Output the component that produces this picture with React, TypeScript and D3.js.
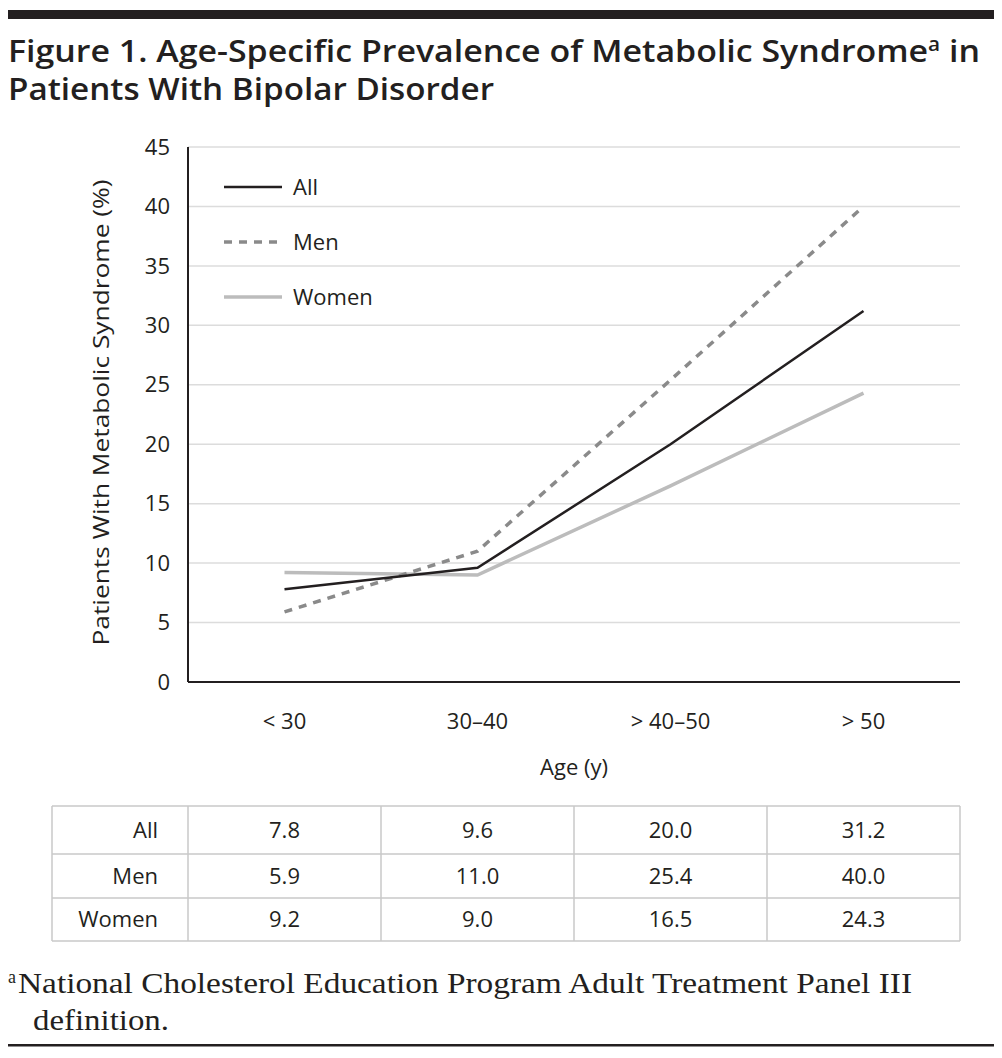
import React from 'react';
import * as d3 from 'd3';

// values (and its table)
const AGE_GROUPS = ['< 30', '30–40', '> 40–50', '> 50'];
const ALL = [7.8, 9.6, 20.0, 31.2];
const MEN = [5.9, 11.0, 25.4, 40.0];
const WOMEN = [9.2, 9.0, 16.5, 24.3];
const Y_TICKS = [0, 5, 10, 15, 20, 25, 30, 35, 40, 45];

const SERIES = [
    { name: 'All', values: ALL, color: '#231f20', width: 2.5, dash: '' },
    { name: 'Men', values: MEN, color: '#8a8a8a', width: 3.5, dash: '8,7' },
    { name: 'Women', values: WOMEN, color: '#bcbcbc', width: 3.5, dash: '' },
];

const W = 1002;
const H = 1058;
const PLOT = { left: 188, right: 960, top: 147, bottom: 682 };
const SANS = '"Open Sans", "Noto Sans", sans-serif';
const SERIF = '"Liberation Serif", "DejaVu Serif", serif';

export default function App() {
    const x = d3.scaleBand<string>().domain(AGE_GROUPS).range([PLOT.left, PLOT.right]);
    const cx = (c: string) => x(c)! + x.bandwidth() / 2;
    const y = d3.scaleLinear().domain([0, 45]).range([PLOT.bottom, PLOT.top]);

    const line = d3.line<number>()
        .x((_, i) => cx(AGE_GROUPS[i]))
        .y(d => y(d));

    // table geometry
    const tableTop = 806;
    const rowH = [48, 44, 43];
    const rowY = [tableTop, tableTop + rowH[0], tableTop + rowH[0] + rowH[1], tableTop + rowH[0] + rowH[1] + rowH[2]];
    const tableLeft = 52;
    const colEdges = [tableLeft, ...AGE_GROUPS.map(c => x(c)!), PLOT.right];

    return (
        <svg width={W} height={H} style={{ position: 'absolute', left: 0, top: 0, background: '#fff' }}>
            {/* top rule */}
            <rect x={8} y={10} width={986} height={9} fill="#231f20" />

            {/* title */}
            <text x={8} y={62} fontFamily={SANS} fontWeight={600} fontSize={31} fill="#231f20"
                textLength={972} lengthAdjust="spacingAndGlyphs">
                Figure 1. Age-Specific Prevalence of Metabolic Syndrome
                <tspan dy={-11} fontSize={19}>a</tspan>
                <tspan dy={11}> in</tspan>
            </text>
            <text x={8} y={100} fontFamily={SANS} fontWeight={600} fontSize={31} fill="#231f20"
                textLength={486} lengthAdjust="spacingAndGlyphs">
                Patients With Bipolar Disorder
            </text>

            {/* gridlines */}
            {Y_TICKS.filter(t => t > 0).map(t => (
                <line key={t} x1={PLOT.left} x2={PLOT.right} y1={y(t)} y2={y(t)} stroke="#dcdcdc" strokeWidth={1.5} />
            ))}

            {/* y tick labels */}
            {Y_TICKS.map(t => (
                <text key={t} x={170} y={y(t)} dy="0.35em" textAnchor="end" fontFamily={SANS} fontSize={22} fill="#231f20">{t}</text>
            ))}

            {/* axes */}
            <line x1={PLOT.left} x2={PLOT.left} y1={PLOT.top} y2={PLOT.bottom} stroke="#231f20" strokeWidth={2} />
            <line x1={PLOT.left} x2={PLOT.right} y1={PLOT.bottom} y2={PLOT.bottom} stroke="#231f20" strokeWidth={2} />

            {/* x tick labels */}
            {AGE_GROUPS.map(c => (
                <text key={c} x={cx(c)} y={729} textAnchor="middle" fontFamily={SANS} fontSize={22} fill="#231f20">{c}</text>
            ))}
            <text x={574} y={775} textAnchor="middle" fontFamily={SANS} fontSize={22} fill="#231f20">Age (y)</text>
            <text transform={`translate(109, ${(PLOT.top + PLOT.bottom) / 2 - 2}) rotate(-90)`} textAnchor="middle"
                fontFamily={SANS} fontSize={22} fill="#231f20" textLength={466} lengthAdjust="spacingAndGlyphs">
                Patients With Metabolic Syndrome (%)
            </text>

            {/* series lines: women, men, all (all on top) */}
            {[SERIES[2], SERIES[1], SERIES[0]].map(s => (
                <path key={s.name} d={line(s.values)!} fill="none" stroke={s.color} strokeWidth={s.width}
                    strokeDasharray={s.dash || undefined} />
            ))}

            {/* legend */}
            {SERIES.map((s, i) => (
                <g key={s.name} transform={`translate(224, ${187 + i * 55})`}>
                    <line x1={0} x2={58} y1={0} y2={0} stroke={s.color} strokeWidth={s.width}
                        strokeDasharray={s.dash || undefined} />
                    <text x={69} y={0} dy="0.35em" fontFamily={SANS} fontSize={22} fill="#231f20">{s.name}</text>
                </g>
            ))}

            {/* data table */}
            <g stroke="#c8c8c8" strokeWidth={1.5}>
                {rowY.map((ry, i) => (
                    <line key={i} x1={tableLeft} x2={PLOT.right} y1={ry} y2={ry} />
                ))}
                {colEdges.map((cxe, i) => (
                    <line key={i} x1={cxe} x2={cxe} y1={rowY[0]} y2={rowY[3]} />
                ))}
            </g>
            {SERIES.map((s, r) => {
                const mid = (rowY[r] + rowY[r + 1]) / 2;
                return (
                    <g key={s.name} fontFamily={SANS} fontSize={22} fill="#231f20">
                        <text x={158} y={mid} dy="0.35em" textAnchor="end">{s.name}</text>
                        {s.values.map((v, i) => (
                            <text key={i} x={cx(AGE_GROUPS[i])} y={mid} dy="0.35em" textAnchor="middle">{v.toFixed(1)}</text>
                        ))}
                    </g>
                );
            })}

            {/* footnote */}
            <text x={8} y={983} fontFamily={SERIF} fontSize={18} fill="#231f20">a</text>
            <text x={18} y={993} fontFamily={SERIF} fontSize={29} fill="#231f20"
                textLength={894} lengthAdjust="spacingAndGlyphs">
                National Cholesterol Education Program Adult Treatment Panel III
            </text>
            <text x={33} y={1030} fontFamily={SERIF} fontSize={29} fill="#231f20"
                textLength={136} lengthAdjust="spacingAndGlyphs">definition.</text>

            {/* bottom rule */}
            <rect x={8} y={1044} width={986} height={2.5} fill="#231f20" />
        </svg>
    );
}
